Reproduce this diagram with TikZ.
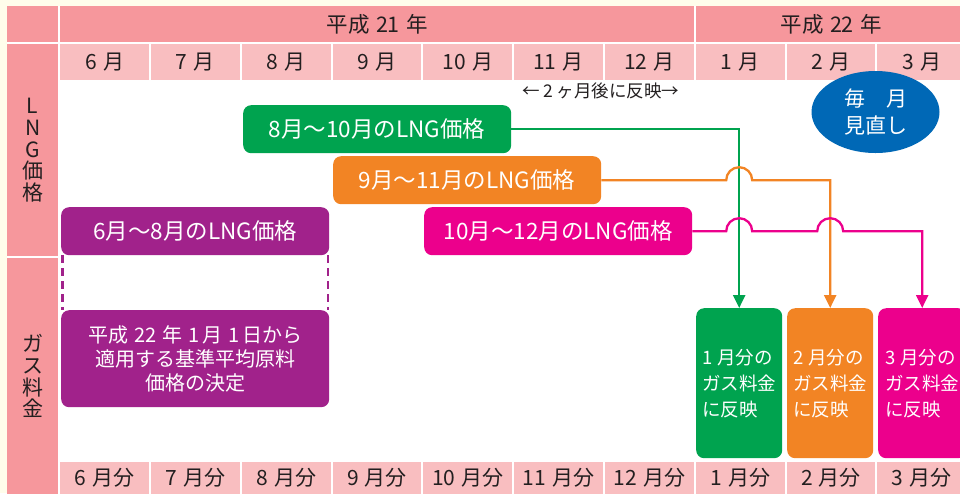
\documentclass[tikz,border=0pt]{standalone}
\usepackage{fontspec}
\setmainfont{Noto Sans CJK JP}
\usetikzlibrary{arrows.meta,calc,shapes.geometric}
\definecolor{cream}{HTML}{FFFDEB}
\definecolor{pinkD}{HTML}{F6979C}
\definecolor{pinkL}{HTML}{F9BEC0}
\definecolor{txt}{HTML}{231F20}
\definecolor{grn}{HTML}{00A34F}
\definecolor{org}{HTML}{F28424}
\definecolor{mag}{HTML}{EC008C}
\definecolor{pur}{HTML}{A1228B}
\definecolor{blu}{HTML}{0068B6}
\tikzset{
  hdr/.style={fill=pinkD, inner sep=0, anchor=north west, text=txt, font=\fontsize{21.5}{22}\selectfont},
  mcell/.style={fill=pinkL, inner sep=0, anchor=north west, text=txt, minimum width=88.8, minimum height=36, font=\fontsize{21}{22}\selectfont},
  bcell/.style={mcell, minimum height=32},
  side/.style={fill=pinkD, inner sep=0, anchor=north west, text=txt, minimum width=51, align=center, font=\fontsize{21}{21.7}\selectfont},
  lbox/.style={rounded corners=8pt, inner sep=0, anchor=north west, text=white, minimum width=268, minimum height=48, font=\fontsize{22.5}{23}\selectfont},
  rbox/.style={rounded corners=8pt, inner sep=0, anchor=north west, text=white, minimum width=86, minimum height=150, align=left, font=\fontsize{18.5}{26}\selectfont},
  conn/.style={line width=2.3pt, -{Triangle[length=13pt,width=12pt]}},
  hop/.style={start angle=180, end angle=360, radius=13},
}
\begin{document}
\begin{tikzpicture}[x=1pt,y=-1pt]
\useasboundingbox (0,0) rectangle (960,493);
\clip (0,0) rectangle (960,493);
\fill[cream] (0,0) rectangle (960,493);
\fill[white] (7,6) rectangle (960,493);
% left column
\node[side, minimum height=36] (tl) at (7,6) {};
\node[side, minimum height=212] (lng) at (7,44) {L\\N\\G\\価\\格};
\node[side, minimum height=236] (gas) at (7,258) {ガ\\ス\\料\\金};
% year header
\node[hdr, minimum width=634, minimum height=36] (y21) at (60,6) {平成\hspace{0.3em}21\hspace{0.3em}年};
\node[hdr, minimum width=270, minimum height=36] (y22) at (696,6) {平成\hspace{0.3em}22\hspace{0.3em}年};
% month cells
\foreach \m [count=\i from 0] in {6,7,8,9,10,11,12,1,2,3} {
  \node[mcell] (m\m) at ({60+\i*90.8},44) {\m\hspace{0.3em}月};
  \node[bcell] (b\m) at ({60+\i*90.8},462) {\m\hspace{0.3em}月分};
}
% note
\node[text=txt, font=\fontsize{17.5}{18}\selectfont, inner sep=0] (note) at (601,91) {←\hspace{0.2em}2\hspace{0.2em}ヶ月後に反映→};
% oval
\node[ellipse, fill=blu, text=white, minimum width=128, minimum height=82, inner sep=0, align=center, font=\fontsize{21}{27}\selectfont] (ov) at (875.5,112) {毎　月\\見直し};
% LNG boxes
\node[lbox, fill=grn] (g1) at (243,105) {8月〜10月のLNG価格};
\node[lbox, fill=org] (o1) at (333,156) {9月〜11月のLNG価格};
\node[lbox, fill=mag] (p1) at (424,207) {10月〜12月のLNG価格};
\node[lbox, fill=pur] (u1) at (61,207) {6月〜8月のLNG価格};
\node[lbox, fill=pur, minimum height=97, align=center, font=\fontsize{20}{24}\selectfont] (u2) at (61,310) {平成\hspace{0.3em}22\hspace{0.3em}年\hspace{0.3em}1\hspace{0.15em}月\hspace{0.3em}1\hspace{0.15em}日から\\適用する基準平均原料\\価格の決定};
% gas boxes
\node[rbox, fill=grn] (gb) at (696,308) {1\hspace{0.25em}月分の\\ガス料金\\に反映};
\node[rbox, fill=org] (ob) at (787,308) {2\hspace{0.25em}月分の\\ガス料金\\に反映};
\node[rbox, fill=mag, minimum width=88] (mb) at (878,308) {3\hspace{0.25em}月分の\\ガス料金\\に反映};
% dashed
\draw[pur, line width=2.2pt, dash pattern=on 8pt off 5pt] ($(u1.south west)+(1.5,0)$) -- ($(u2.north west)+(1.5,0)$);
\draw[pur, line width=2.2pt, dash pattern=on 8pt off 5pt] ($(u1.south east)+(-1.5,0)$) -- ($(u2.north east)+(-1.5,0)$);
% connectors
\draw[conn, grn] (g1.east) -- (g1.east -| gb.north) -- (gb.north);
\draw[conn, org] (o1.east) -- ($(o1.east -| gb.north)+(-13,0)$) arc[hop] -- (o1.east -| ob.north) -- (ob.north);
\draw[conn, mag] (p1.east) -- ($(p1.east -| gb.north)+(-13,0)$) arc[hop] -- ($(p1.east -| ob.north)+(-13,0)$) arc[hop] -- (p1.east -| mb.north) -- (mb.north);
\end{tikzpicture}
\end{document}
